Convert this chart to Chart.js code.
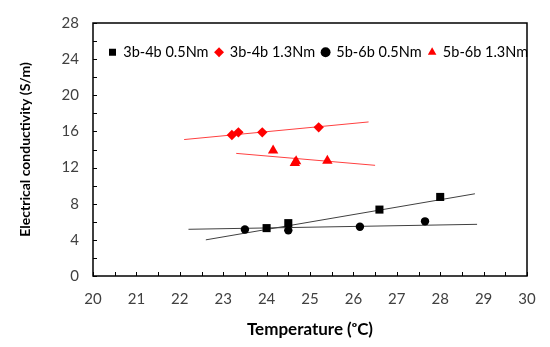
<!DOCTYPE html>
<html><head><meta charset="utf-8">
<script src="https://cdn.jsdelivr.net/npm/chart.js@4.4.0/dist/chart.umd.min.js"></script>
<style>html,body{margin:0;padding:0;background:#fff}#wrap{width:550px;height:347px}</style>
</head><body><div id="wrap"><canvas id="c"></canvas></div>
<script>
const seriesNames = ['3b-4b 0.5Nm', '3b-4b 1.3Nm', '5b-6b 0.5Nm', '5b-6b 1.3Nm'];
const xTickLabels = [20, 21, 22, 23, 24, 25, 26, 27, 28, 29, 30];
const yTickLabels = [0, 4, 8, 12, 16, 20, 24, 28];

const sqT = [24.0, 24.5, 26.6, 28.0];
const sqS = [5.3, 5.85, 7.35, 8.75];
const diT = [23.2, 23.35, 23.9, 25.2];
const diS = [15.6, 15.9, 15.9, 16.45];
const ciT = [23.5, 24.5, 26.15, 27.65];
const ciS = [5.15, 5.05, 5.45, 6.05];
const trT = [24.15, 24.65, 24.68, 25.4];
const trS = [13.9, 12.5, 12.7, 12.75];

const sqFitT = [22.6, 28.8];
const sqFitS = [4.0, 9.1];
const diFitT = [22.1, 26.35];
const diFitS = [15.1, 17.05];
const ciFitT = [22.2, 28.85];
const ciFitS = [5.17, 5.72];
const trFitT = [23.3, 26.5];
const trFitS = [13.57, 12.25];

const pts = (xs, ys) => xs.map((x, i) => ({x: x, y: ys[i]}));
const FONT = 'Lato';

const legendInside = {
  id: 'legendInside',
  afterInit(chart) {
    if (chart.legend) chart.legend.isHorizontal = () => true;
  },
  afterLayout(chart) {
    const lg = chart.legend, a = chart.chartArea;
    if (!lg) return;
    lg.maxWidth = 1000;
    lg.fit();
    lg.left = a.left + 9;
    lg.right = a.right + 200;
    lg.top = a.top + 15;
    lg.bottom = lg.top + lg.height;
  }
};

const innerTicks = {
  id: 'innerTicks',
  afterDatasetsDraw(chart) {
    const ctx = chart.ctx, a = chart.chartArea;
    const xs = chart.scales.x, ys = chart.scales.y;
    ctx.save();
    ctx.strokeStyle = '#000';
    ctx.lineWidth = 1;
    ctx.beginPath();
    for (let v = xs.min; v <= xs.max + 1e-9; v += 0.5) {
      const px = Math.round(xs.getPixelForValue(v)) + 0.5;
      ctx.moveTo(px, a.bottom);
      ctx.lineTo(px, a.bottom - 4);
    }
    for (let v = ys.min; v <= ys.max + 1e-9; v += 2) {
      const py = Math.round(ys.getPixelForValue(v)) + 0.5;
      ctx.moveTo(a.left, py);
      ctx.lineTo(a.left + 4, py);
    }
    ctx.stroke();
    ctx.lineWidth = 1.5;
    ctx.strokeRect(a.left, a.top, a.right - a.left, a.bottom - a.top);
    ctx.restore();
  }
};

const trend = (xs, ys, color) => ({
  type: 'line', label: '_fit', data: pts(xs, ys), showLine: true,
  borderColor: color, borderWidth: 1, pointRadius: 0, fill: false, order: 2
});

new Chart(document.getElementById('c'), {
  type: 'scatter',
  data: {
    datasets: [
      {label: seriesNames[0], data: pts(sqT, sqS), pointStyle: 'rect', pointRadius: 5.7,
       backgroundColor: '#000', borderColor: '#000', borderWidth: 0, order: 1},
      {label: seriesNames[1], data: pts(diT, diS), pointStyle: 'rectRot', pointRadius: 5.2,
       backgroundColor: '#ff0000', borderColor: '#ff0000', borderWidth: 0, order: 1},
      {label: seriesNames[2], data: pts(ciT, ciS), pointStyle: 'circle', pointRadius: 4.2,
       backgroundColor: '#000', borderColor: '#000', borderWidth: 0, order: 1},
      {label: seriesNames[3], data: pts(trT, trS), pointStyle: 'triangle', pointRadius: 6,
       backgroundColor: '#ff0000', borderColor: '#ff0000', borderWidth: 0, order: 1},
      trend(sqFitT, sqFitS, '#404040'),
      trend(diFitT, diFitS, '#ff4040'),
      trend(ciFitT, ciFitS, '#404040'),
      trend(trFitT, trFitS, '#ff4040')
    ]
  },
  options: {
    responsive: true, maintainAspectRatio: false, animation: false,
    layout: {padding: {left: 0, right: 23, top: 16, bottom: 0}},
    plugins: {
      tooltip: {enabled: false},
      legend: {
        position: 'chartArea', align: 'start',
        labels: {
          filter: item => item.text !== '_fit',
          usePointStyle: true, boxWidth: 7, boxHeight: 7, padding: 7,
          color: '#000', font: {family: FONT, size: 14.5}
        }
      }
    },
    scales: {
      x: {
        type: 'linear', min: 20, max: 30,
        afterFit: s => { s.height = 71; },
        ticks: {stepSize: 1, padding: 14, color: '#404040', font: {family: FONT, size: 15},
          callback: v => xTickLabels.includes(v) ? String(v) : ''},
        grid: {display: false, drawTicks: false},
        border: {display: false},
        title: {display: true, text: 'Temperature (\u1D52C)', color: '#000',
          font: {family: FONT, size: 17, weight: 'bold'}, padding: {top: 0, bottom: 7}}
      },
      y: {
        type: 'linear', min: 0, max: 28,
        afterFit: s => { s.width = 93; },
        ticks: {stepSize: 4, padding: 14, color: '#404040', font: {family: FONT, size: 15},
          callback: v => yTickLabels.includes(v) ? String(v) : ''},
        grid: {display: false, drawTicks: false},
        border: {display: false},
        title: {display: true, text: 'Electrical conductivity (S/m)', color: '#000',
          font: {family: FONT, size: 14, weight: 'bold'}, padding: {top: 17, bottom: 0}}
      }
    }
  },
  plugins: [legendInside, innerTicks]
});
</script></body></html>
